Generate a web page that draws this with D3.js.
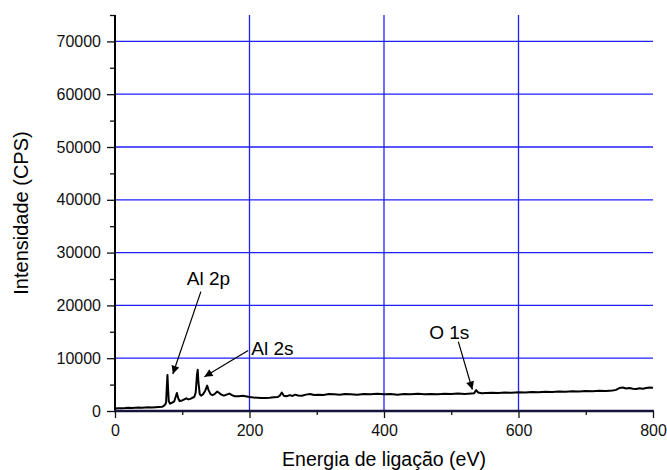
<!DOCTYPE html>
<html>
<head>
<meta charset="utf-8">
<script src="https://cdn.jsdelivr.net/npm/d3@7/dist/d3.min.js"></script>
<style>
  html, body { margin: 0; padding: 0; background: #fff; }
  svg { display: block; font-family: Arial, "Liberation Sans", sans-serif; }
</style>
</head>
<body>
<svg id="chart" width="667" height="470"></svg>
<script>
// ---- Data ----
const energy = [0,5,10,15,20,25,30,35,40,45,50,55,60,65,70,73,75,76,77,78,79,80,82,85,88,90,92,94,96,
  100,103,106,109,112,115,118,120,122,123,124,126,128,131,134,137,139,142,145,148,152,155,158,162,166,170,174,178,184,190,196,
  200,206,212,218,224,230,236,242,245,248,251,255,260,264,268,272,278,284,290,296,
  302,310,318,326,334,342,350,360,370,380,390,400,410,420,430,440,450,460,470,480,490,
  500,510,520,530,534,537,540,545,552,560,570,580,590,600,610,620,630,640,650,660,670,680,690,
  700,710,720,730,740,745,750,755,760,765,770,775,780,785,790,795,800];
const cps = [480,520,540,560,600,580,620,640,620,660,700,680,720,760,800,1000,1300,1700,4500,6800,4000,1800,1400,1600,1800,2600,3400,2400,1900,
  2000,2200,2400,2200,2300,2500,2700,3500,7000,7800,5500,3200,2900,3200,3800,4800,4000,3200,3000,3200,3700,3400,3100,2900,3100,3300,3000,2800,2800,2900,2750,
  2650,2550,2500,2450,2450,2500,2600,2650,2900,3500,2900,2800,3000,2850,3100,2950,2900,3100,3200,3050,
  3100,3050,3200,3150,3100,3200,3150,3100,3200,3150,3250,3150,3200,3100,3200,3150,3250,3150,3200,3150,3250,
  3200,3300,3200,3300,3350,3950,3500,3350,3400,3450,3400,3500,3450,3550,3500,3600,3550,3650,3600,3700,3650,3750,3700,
  3800,3750,3850,3800,3900,4000,4350,4450,4250,4350,4200,4150,4300,4200,4350,4450,4400];

const xMajorTicks = [0, 200, 400, 600, 800];
const xMinorTicks = [100, 300, 500, 700];
const yMajorTicks = [0, 10000, 20000, 30000, 40000, 50000, 60000, 70000];
const yMinorTicks = [5000, 15000, 25000, 35000, 45000, 55000, 65000, 75000];
const xGridValues = [200, 400, 600];
const yGridValues = [10000, 20000, 30000, 40000, 50000, 60000, 70000];

const xTitle = "Energia de ligação (eV)";
const yTitle = "Intensidade (CPS)";

// annotation: label, text anchor (eV, cps), arrow start (eV, cps), arrow tip (eV, cps)
const annLabels = ["Al 2p", "Al 2s", "O 1s"];
const annText = [[139, 23900], [234, 10620], [497, 13650]];
const annFrom = [[127.7, 22600], [198, 11440], [510.5, 13140]];
const annTo = [[86, 7020], [133, 6500], [531.4, 4080]];

// ---- Layout ----
const svg = d3.select("#chart");
const margin = { left: 115, right: 14, top: 15, bottom: 59 };
const W = 667, H = 470;
const x = d3.scaleLinear().domain([0, 800]).range([margin.left, W - margin.right]);
const y = d3.scaleLinear().domain([0, 75000]).range([H - margin.bottom, margin.top]);

const gridColor = "#1f1fff";

// grid
svg.append("g").selectAll("line").data(yGridValues).join("line")
  .attr("x1", x(0)).attr("x2", x(800))
  .attr("y1", d => y(d)).attr("y2", d => y(d))
  .attr("stroke", gridColor).attr("stroke-width", 1.3);
svg.append("g").selectAll("line").data(xGridValues).join("line")
  .attr("x1", d => x(d)).attr("x2", d => x(d))
  .attr("y1", y(0)).attr("y2", y(75000))
  .attr("stroke", gridColor).attr("stroke-width", 1.3);

// x axis
const xAxis = svg.append("g").attr("transform", `translate(0,${y(0)})`)
  .call(d3.axisBottom(x).tickValues(xMajorTicks).tickSize(7).tickPadding(7).tickFormat(d3.format("d")));
xAxis.select(".domain").remove();
xAxis.selectAll(".tick line").attr("stroke", "#111").attr("stroke-width", 1.3);
xAxis.selectAll("text").attr("font-size", 16).attr("fill", "#111")
  .attr("font-family", "Arial, 'Liberation Sans', sans-serif");
const xMinor = svg.append("g").attr("transform", `translate(0,${y(0)})`)
  .call(d3.axisBottom(x).tickValues(xMinorTicks).tickSize(4).tickFormat(""));
xMinor.select(".domain").remove();
xMinor.selectAll(".tick line").attr("stroke", "#111").attr("stroke-width", 1.3);

// y axis
const yAxis = svg.append("g").attr("transform", `translate(${x(0)},0)`)
  .call(d3.axisLeft(y).tickValues(yMajorTicks).tickSize(8).tickPadding(6).tickFormat(d3.format("d")));
yAxis.select(".domain").remove();
yAxis.selectAll(".tick line").attr("stroke", "#111").attr("stroke-width", 1.3);
yAxis.selectAll("text").attr("font-size", 16).attr("fill", "#111")
  .attr("font-family", "Arial, 'Liberation Sans', sans-serif");
const yMinor = svg.append("g").attr("transform", `translate(${x(0)},0)`)
  .call(d3.axisLeft(y).tickValues(yMinorTicks).tickSize(5).tickFormat(""));
yMinor.select(".domain").remove();
yMinor.selectAll(".tick line").attr("stroke", "#111").attr("stroke-width", 1.3);

// axis lines
svg.append("line").attr("x1", x(0)).attr("x2", x(0)).attr("y1", y(0)).attr("y2", y(75000))
  .attr("stroke", "#000").attr("stroke-width", 2);
svg.append("line").attr("x1", x(0) - 1).attr("x2", x(800) + 1).attr("y1", y(0)).attr("y2", y(0))
  .attr("stroke", "#15153a").attr("stroke-width", 2.5);

// data line
const pts = energy.map((e, i) => [e, cps[i]]);
svg.append("path").datum(pts)
  .attr("fill", "none").attr("stroke", "#000").attr("stroke-width", 2)
  .attr("stroke-linejoin", "round")
  .attr("d", d3.line().x(d => x(d[0])).y(d => y(d[1])));

// arrow marker
svg.append("defs").append("marker")
  .attr("id", "arrow").attr("viewBox", "0 0 10 10").attr("refX", 10).attr("refY", 5)
  .attr("markerUnits", "userSpaceOnUse").attr("markerWidth", 10).attr("markerHeight", 8)
  .attr("orient", "auto")
  .append("path").attr("d", "M0,0 L10,5 L0,10 Z").attr("fill", "#000");

// annotations
annLabels.forEach((lab, i) => {
  svg.append("line")
    .attr("x1", x(annFrom[i][0])).attr("y1", y(annFrom[i][1]))
    .attr("x2", x(annTo[i][0])).attr("y2", y(annTo[i][1]))
    .attr("stroke", "#000").attr("stroke-width", 1.2)
    .attr("marker-end", "url(#arrow)");
  svg.append("text")
    .attr("x", x(annText[i][0])).attr("y", y(annText[i][1]))
    .attr("text-anchor", "middle").attr("font-size", 19).attr("fill", "#000")
    .text(lab);
});

// titles
svg.append("text")
  .attr("x", (x(0) + x(800)) / 2).attr("y", 466)
  .attr("text-anchor", "middle").attr("font-size", 19.5).attr("fill", "#000")
  .text(xTitle);
svg.append("text")
  .attr("transform", `translate(28,${(y(0) + y(75000)) / 2}) rotate(-90)`)
  .attr("text-anchor", "middle").attr("font-size", 20).attr("fill", "#000")
  .text(yTitle);
</script>
</body>
</html>
